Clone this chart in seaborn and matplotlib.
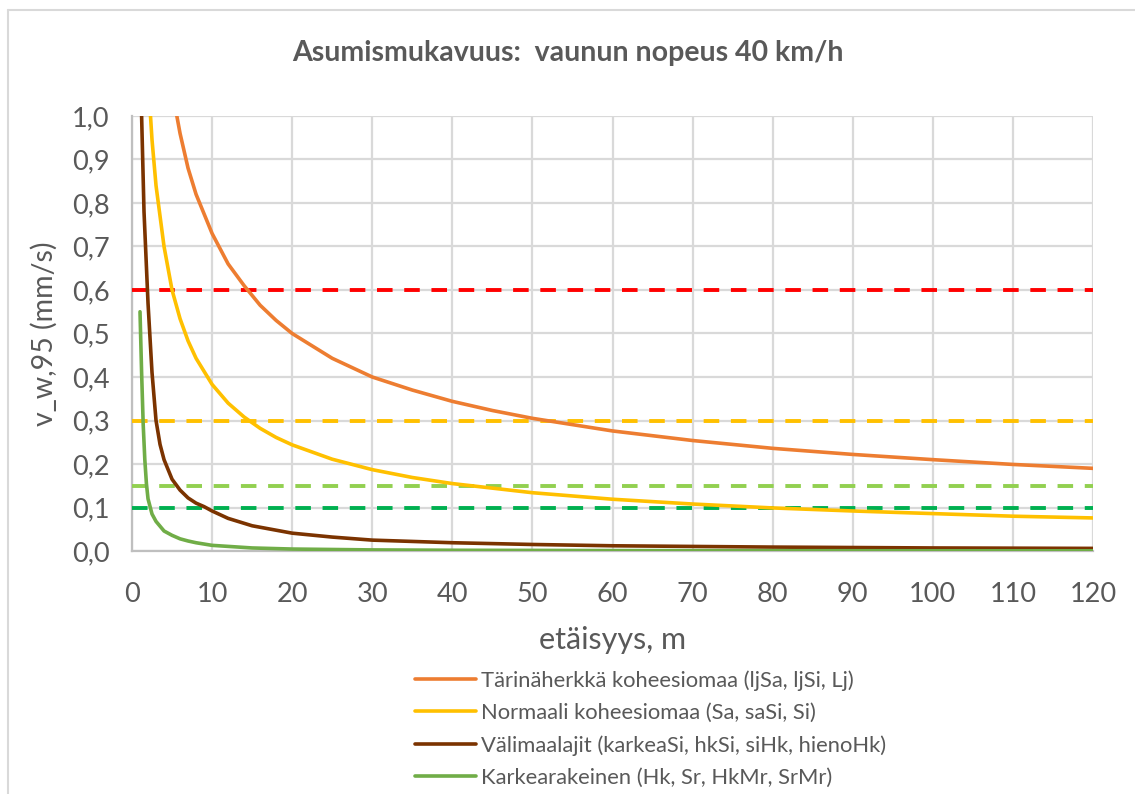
import matplotlib
matplotlib.use("Agg")
import matplotlib.pyplot as plt
from matplotlib.lines import Line2D
import pandas as pd
import seaborn as sns

# series (x = distance m, y = v_w,95 mm/s)
series_names = [
    "Tärinäherkkä koheesiomaa (ljSa, ljSi, Lj)",
    "Normaali koheesiomaa (Sa, saSi, Si)",
    "Välimaalajit (karkeaSi, hkSi, siHk, hienoHk)",
    "Karkearakeinen (Hk, Sr, HkMr, SrMr)",
]
orange_x = [5, 6, 7, 8, 10, 12, 14, 16, 18, 20, 25, 30, 35, 40, 45, 50, 60, 70, 80, 90, 100, 110, 120]
orange_y = [1.06, 0.96, 0.88, 0.82, 0.73, 0.66, 0.61, 0.565, 0.53, 0.50, 0.443, 0.40, 0.37, 0.344, 0.323,
            0.305, 0.276, 0.254, 0.236, 0.222, 0.21, 0.199, 0.19]
yellow_x = [2, 2.5, 3, 4, 5, 6, 7, 8, 10, 12, 14, 16, 18, 20, 25, 30, 35, 40, 50, 60, 70, 80, 90, 100, 110, 120]
yellow_y = [1.09, 0.945, 0.84, 0.70, 0.60, 0.534, 0.483, 0.443, 0.383, 0.34, 0.308, 0.282, 0.261, 0.244,
            0.211, 0.187, 0.169, 0.155, 0.134, 0.119, 0.108, 0.099, 0.092, 0.086, 0.080, 0.076]
brown_x = [1.1, 1.2, 1.5, 2, 2.5, 3, 3.5, 4, 5, 6, 7, 8, 9, 10, 12, 15, 20, 25, 30, 40, 50, 60, 80, 100, 120]
brown_y = [1.1, 1.0, 0.78, 0.57, 0.41, 0.30, 0.245, 0.21, 0.165, 0.14, 0.122, 0.110, 0.102, 0.092, 0.075,
           0.058, 0.041, 0.032, 0.025, 0.019, 0.015, 0.012, 0.009, 0.007, 0.006]
green_x = [1.0, 1.2, 1.4, 1.6, 1.8, 2.0, 2.5, 3, 4, 5, 6, 7, 8, 10, 15, 20, 30, 40, 60, 80, 100, 120]
green_y = [0.55, 0.41, 0.29, 0.21, 0.155, 0.12, 0.085, 0.068, 0.046, 0.036, 0.028, 0.023, 0.019, 0.013,
           0.007, 0.0045, 0.0025, 0.0017, 0.001, 0.0007, 0.0005, 0.0004]

limits = [0.6, 0.3, 0.15, 0.1]
limit_colors = ["#FF0000", "#FFC000", "#92D050", "#00B050"]
curve_colors = ["#ED7D31", "#FFC000", "#7B3300", "#70AD47"]

rows = []
for name, xs, ys in zip(series_names,
                        [orange_x, yellow_x, brown_x, green_x],
                        [orange_y, yellow_y, brown_y, green_y]):
    for x, y in zip(xs, ys):
        rows.append({"etaisyys": x, "v": y, "maalaji": name})
df = pd.DataFrame(rows)

sns.set_theme(style="white")
plt.rcParams["font.family"] = ["Lato", "DejaVu Sans"]
txt = "#595959"

fig = plt.figure(figsize=(11.35, 7.94), dpi=100)
ax = fig.add_axes([132 / 1135, 1 - 551 / 794, (1093 - 132) / 1135, (551 - 116) / 794])

for lim, c in zip(limits, limit_colors):
    ax.axhline(lim, color=c, lw=2.8, dashes=(4, 3), zorder=3)

sns.lineplot(data=df, x="etaisyys", y="v", hue="maalaji", palette=curve_colors,
             hue_order=series_names, lw=2.6, sort=False, ax=ax, legend=False, zorder=4)

ax.set_xlim(0, 120)
ax.set_ylim(0, 1.0)
ax.set_xticks(range(0, 121, 10))
ax.set_yticks([i / 10 for i in range(11)])
ax.set_yticklabels([f"{i / 10:.1f}".replace(".", ",") for i in range(11)])
ax.grid(True, color="#D9D9D9", lw=1.6)
ax.tick_params(axis="both", labelsize=19.5, colors=txt, length=0)
ax.tick_params(axis="x", pad=22)
ax.tick_params(axis="y", pad=16)
for s in ["top", "right"]:
    ax.spines[s].set_visible(False)
for s in ["left", "bottom"]:
    ax.spines[s].set_color("#BFBFBF")
    ax.spines[s].set_linewidth(1.6)

ax.set_xlabel("etäisyys, m", fontsize=22, color=txt, labelpad=14)
ax.set_ylabel("v_w,95 (mm/s)", fontsize=20.5, color=txt, labelpad=10)
fig.text(0.5, 1 - 53 / 794, "Asumismukavuus:  vaunun nopeus 40 km/h", ha="center", va="center",
         fontsize=20.5, fontweight="bold", color=txt)

handles = [Line2D([], [], color=c, lw=2.6) for c in curve_colors]
fig.legend(handles, series_names, loc="upper left", bbox_to_anchor=(400 / 1135, 1 - 655 / 794),
           frameon=False, fontsize=15.8, handlelength=2.75, handletextpad=0.25,
           labelspacing=0.55, labelcolor=txt, borderpad=0.2)

# chart-area border (top and left edges visible in the reference)
fig.add_artist(Line2D([8 / 1135, 1.0], [1 - 10 / 794, 1 - 10 / 794], color="#D9D9D9", lw=1.5))
fig.add_artist(Line2D([8 / 1135, 8 / 1135], [0, 1 - 10 / 794], color="#D9D9D9", lw=1.5))

fig.savefig("out.png", dpi=100)
